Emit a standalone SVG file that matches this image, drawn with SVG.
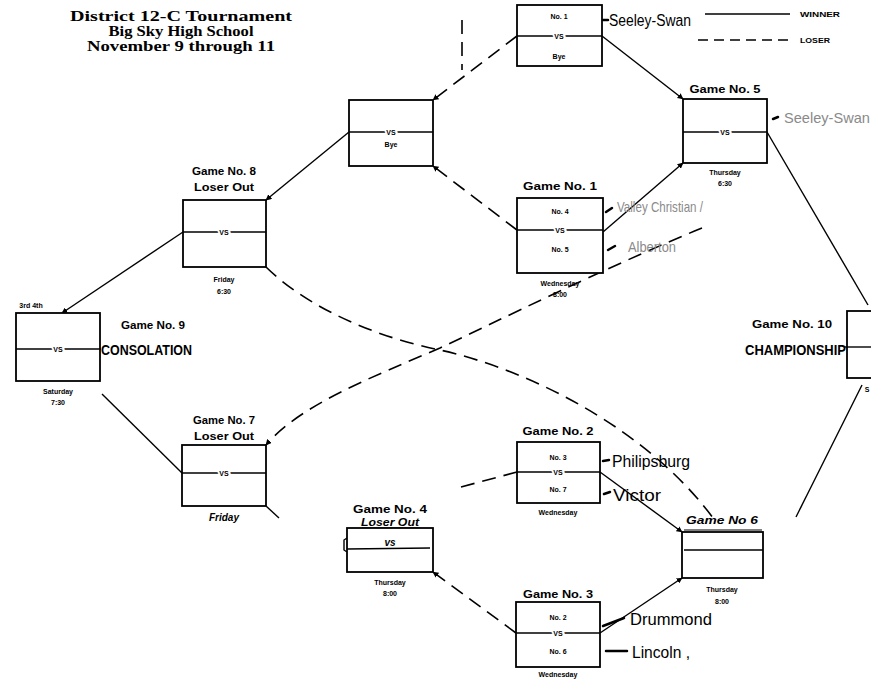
<svg xmlns="http://www.w3.org/2000/svg" width="871" height="683" viewBox="0 0 871 683">
<style>
.box{fill:#fff;stroke:#000;stroke-width:1.8}
.div{stroke:#000;stroke-width:1.4}
.w{fill:none;stroke:#000;stroke-width:1.4}
.l{fill:none;stroke:#000;stroke-width:1.6;stroke-dasharray:14 8}
.title{font-family:"Liberation Serif",serif;font-weight:bold;font-size:15px;text-anchor:middle}
.gl{font-family:"Liberation Sans",Arial,sans-serif;font-weight:bold;font-size:11.5px;text-anchor:middle}
.sm{font-family:"Liberation Sans",Arial,sans-serif;font-weight:bold;font-size:7px;text-anchor:middle}
.vs{font-family:"Liberation Sans",Arial,sans-serif;font-weight:bold;font-size:7px;text-anchor:middle;stroke:#fff;stroke-width:4;paint-order:stroke}
.big{font-family:"Liberation Sans",Arial,sans-serif;font-weight:bold;font-size:14px}
.team{font-family:"Liberation Sans",Arial,sans-serif;font-size:16px}
.gray{font-family:"Liberation Sans",Arial,sans-serif;font-size:15px;fill:#8a8a8a}
.hand{font-family:"Liberation Sans",Arial,sans-serif;font-style:italic;font-weight:bold;font-size:10px;text-anchor:middle}
.mk{stroke:#000;stroke-width:2.5;stroke-linecap:round}
</style>
<defs>
<marker id="ah" viewBox="0 0 10 10" refX="9" refY="5" markerWidth="6" markerHeight="6" orient="auto" markerUnits="userSpaceOnUse">
<path d="M0,0 L10,5 L0,10 z" fill="#000"/>
</marker>
</defs>

<g id="title">
<text class="title" x="181" y="21" textLength="222" lengthAdjust="spacingAndGlyphs">District 12-C Tournament</text>
<text class="title" x="181" y="36" textLength="145" lengthAdjust="spacingAndGlyphs">Big Sky High School</text>
<text class="title" x="181" y="51" textLength="188" lengthAdjust="spacingAndGlyphs">November 9 through 11</text>
</g>

<g id="legend">
<line x1="705" y1="14" x2="790" y2="14" stroke="#000" stroke-width="1.4"/>
<text class="sm" x="820" y="17" textLength="40" lengthAdjust="spacingAndGlyphs">WINNER</text>
<line x1="698" y1="40" x2="790" y2="40" stroke="#000" stroke-width="1.4" stroke-dasharray="10 6"/>
<text class="sm" x="815" y="43" textLength="30" lengthAdjust="spacingAndGlyphs">LOSER</text>
</g>

<g id="connectors">
<line class="w" x1="602" y1="36" x2="683" y2="99" marker-end="url(#ah)"/>
<line class="l" x1="517" y1="36" x2="433" y2="100" marker-end="url(#ah)"/>
<line class="l" x1="517" y1="230" x2="433" y2="166" marker-end="url(#ah)"/>
<line class="w" x1="603" y1="232" x2="683" y2="163" marker-end="url(#ah)"/>
<line class="w" x1="349" y1="132" x2="266" y2="200" marker-end="url(#ah)"/>
<line class="w" x1="183" y1="232" x2="62" y2="313" marker-end="url(#ah)"/>
<path class="l" d="M266,267 C310,310 380,338 440,350 C530,370 650,430 716,522"/>
<path class="l" d="M702,228 C600,270 500,320 440,348 C370,378 300,405 266,445" marker-end="url(#ah)"/>
<line class="w" x1="182" y1="473" x2="102" y2="394"/>
<line class="w" x1="266" y1="506" x2="279" y2="518"/>
<line class="w" x1="767" y1="132" x2="868" y2="305" stroke-width="1.1"/>
<line class="w" x1="796" y1="517" x2="862" y2="385"/>
<line class="l" x1="517" y1="472" x2="461" y2="487"/>
<line class="w" x1="600" y1="472" x2="682" y2="532" marker-end="url(#ah)"/>
<line class="l" x1="516" y1="633" x2="433" y2="572" stroke-dasharray="30 8" marker-end="url(#ah)"/>
<line class="w" x1="600" y1="633" x2="682" y2="578" marker-end="url(#ah)"/>
<line class="l" x1="462" y1="20" x2="462" y2="70" stroke-dasharray="16 8"/>
<path class="w" d="M347,538 L344,540 L344,550 L347,552"/>
</g>

<g id="top-bye">
<rect class="box" x="517" y="5" width="85" height="61"/>
<line class="div" x1="517" y1="36" x2="602" y2="36"/>
<text class="sm" x="559" y="19">No. 1</text>
<text class="vs" x="559" y="39">VS</text>
<text class="sm" x="559" y="59">Bye</text>
<line class="mk" x1="603" y1="20" x2="608" y2="20"/>
<text class="team" x="609" y="26" textLength="82" lengthAdjust="spacingAndGlyphs">Seeley-Swan</text>
</g>

<g id="bye-box">
<rect class="box" x="349" y="100" width="84" height="66"/>
<line class="div" x1="349" y1="132" x2="433" y2="132"/>
<text class="vs" x="391" y="135">VS</text>
<text class="sm" x="391" y="147">Bye</text>
</g>

<g id="game1">
<text class="gl" x="560" y="190" textLength="74" lengthAdjust="spacingAndGlyphs">Game No. 1</text>
<rect class="box" x="517" y="198" width="86" height="75"/>
<line class="div" x1="517" y1="230" x2="603" y2="230"/>
<text class="sm" x="560" y="214">No. 4</text>
<text class="vs" x="560" y="233">VS</text>
<text class="sm" x="560" y="252">No. 5</text>
<text class="sm" x="560" y="286">Wednesday</text>
<text class="sm" x="560" y="297">8:00</text>
<line class="mk" x1="606" y1="212" x2="612" y2="208" stroke-width="2"/>
<text class="gray" x="617" y="212" textLength="86" lengthAdjust="spacingAndGlyphs">Valley Christian /</text>
<line class="mk" x1="608" y1="250" x2="615" y2="246" stroke-width="2"/>
<text class="gray" x="628" y="252" textLength="48" lengthAdjust="spacingAndGlyphs">Alberton</text>
</g>

<g id="game5">
<text class="gl" x="725" y="93" textLength="71" lengthAdjust="spacingAndGlyphs">Game No. 5</text>
<rect class="box" x="683" y="99" width="84" height="64"/>
<line class="div" x1="683" y1="132" x2="767" y2="132"/>
<text class="vs" x="725" y="135">VS</text>
<text class="sm" x="725" y="175">Thursday</text>
<text class="sm" x="725" y="186">6:30</text>
<line class="mk" x1="773" y1="119" x2="778" y2="117" stroke-width="3"/>
<text class="gray" x="784" y="123" textLength="86" lengthAdjust="spacingAndGlyphs">Seeley-Swan</text>
</g>

<g id="game8">
<text class="gl" x="224" y="175" textLength="64" lengthAdjust="spacingAndGlyphs">Game No. 8</text>
<text class="gl" x="224" y="191" textLength="60" lengthAdjust="spacingAndGlyphs">Loser Out</text>
<rect class="box" x="183" y="200" width="83" height="67"/>
<line class="div" x1="183" y1="232" x2="266" y2="232"/>
<text class="vs" x="224" y="235">VS</text>
<text class="sm" x="224" y="282">Friday</text>
<text class="sm" x="224" y="294">6:30</text>
</g>

<g id="game9">
<text class="sm" x="31" y="308">3rd 4th</text>
<rect class="box" x="16" y="313" width="84" height="68"/>
<line class="div" x1="16" y1="349" x2="101" y2="349"/>
<text class="vs" x="58" y="352">VS</text>
<text class="sm" x="58" y="394">Saturday</text>
<text class="sm" x="58" y="405">7:30</text>
<text class="gl" x="153" y="329" textLength="64" lengthAdjust="spacingAndGlyphs">Game No. 9</text>
<text class="big" x="101" y="355" textLength="91" lengthAdjust="spacingAndGlyphs">CONSOLATION</text>
</g>

<g id="game10">
<text class="gl" x="792" y="328" textLength="80" lengthAdjust="spacingAndGlyphs">Game No. 10</text>
<text class="big" x="745" y="355" textLength="101" lengthAdjust="spacingAndGlyphs">CHAMPIONSHIP</text>
<rect class="box" x="847" y="311" width="40" height="67"/>
<line class="div" x1="845" y1="347" x2="871" y2="347"/>
<text class="sm" x="867" y="392">S</text>
</g>

<g id="game7">
<text class="gl" x="224" y="424" textLength="62" lengthAdjust="spacingAndGlyphs">Game No. 7</text>
<text class="gl" x="224" y="440" textLength="60" lengthAdjust="spacingAndGlyphs">Loser Out</text>
<rect class="box" x="182" y="445" width="84" height="61"/>
<line class="div" x1="182" y1="473" x2="266" y2="473"/>
<text class="vs" x="224" y="476">VS</text>
<text class="hand" x="224" y="521" font-size="8">Friday</text>
</g>

<g id="game2">
<text class="gl" x="558" y="435" textLength="71" lengthAdjust="spacingAndGlyphs">Game No. 2</text>
<rect class="box" x="517" y="442" width="83" height="61"/>
<line class="div" x1="517" y1="472" x2="600" y2="472"/>
<text class="sm" x="558" y="460">No. 3</text>
<text class="vs" x="558" y="475">VS</text>
<text class="sm" x="558" y="492">No. 7</text>
<text class="sm" x="558" y="515">Wednesday</text>
<line class="mk" x1="603" y1="461" x2="609" y2="460" stroke-width="2"/>
<text class="team" x="612" y="467" textLength="78" lengthAdjust="spacingAndGlyphs">Philipsburg</text>
<line class="mk" x1="604" y1="494" x2="610" y2="492" stroke-width="2"/>
<text class="team" x="613" y="501" textLength="48" lengthAdjust="spacingAndGlyphs">Victor</text>
</g>

<g id="game4">
<text class="gl" x="390" y="513" textLength="74" lengthAdjust="spacingAndGlyphs">Game No. 4</text>
<text class="hand" x="390" y="526" textLength="58" lengthAdjust="spacingAndGlyphs">Loser Out</text>
<line x1="362" y1="528" x2="420" y2="528" stroke="#000" stroke-width="1.2"/>
<rect class="box" x="347" y="528" width="86" height="44"/>
<line class="div" x1="347" y1="549" x2="430" y2="548"/>
<text class="hand" x="390" y="546" font-size="7">vs</text>
<text class="sm" x="390" y="585">Thursday</text>
<text class="sm" x="390" y="596">8:00</text>
</g>

<g id="game6">
<text class="hand" x="722" y="524" font-size="11" textLength="72" lengthAdjust="spacingAndGlyphs">Game No 6</text>
<line x1="684" y1="530" x2="762" y2="530" stroke="#000" stroke-width="1.2"/>
<rect class="box" x="682" y="532" width="81" height="46"/>
<line class="div" x1="684" y1="550" x2="763" y2="550"/>
<text class="sm" x="722" y="592">Thursday</text>
<text class="sm" x="722" y="604">8:00</text>
</g>

<g id="game3">
<text class="gl" x="558" y="598" textLength="70" lengthAdjust="spacingAndGlyphs">Game No. 3</text>
<rect class="box" x="516" y="602" width="84" height="65"/>
<line class="div" x1="516" y1="633" x2="600" y2="633"/>
<text class="sm" x="558" y="620">No. 2</text>
<text class="vs" x="558" y="636">VS</text>
<text class="sm" x="558" y="654">No. 6</text>
<text class="sm" x="558" y="677">Wednesday</text>
<line class="mk" x1="603" y1="626" x2="624" y2="618" stroke-width="3"/>
<text class="team" x="630" y="625" textLength="82" lengthAdjust="spacingAndGlyphs">Drummond</text>
<line class="mk" x1="606" y1="651" x2="627" y2="651" stroke-width="3"/>
<text class="team" x="632" y="658" textLength="58" lengthAdjust="spacingAndGlyphs">Lincoln ,</text>
</g>
</svg>
